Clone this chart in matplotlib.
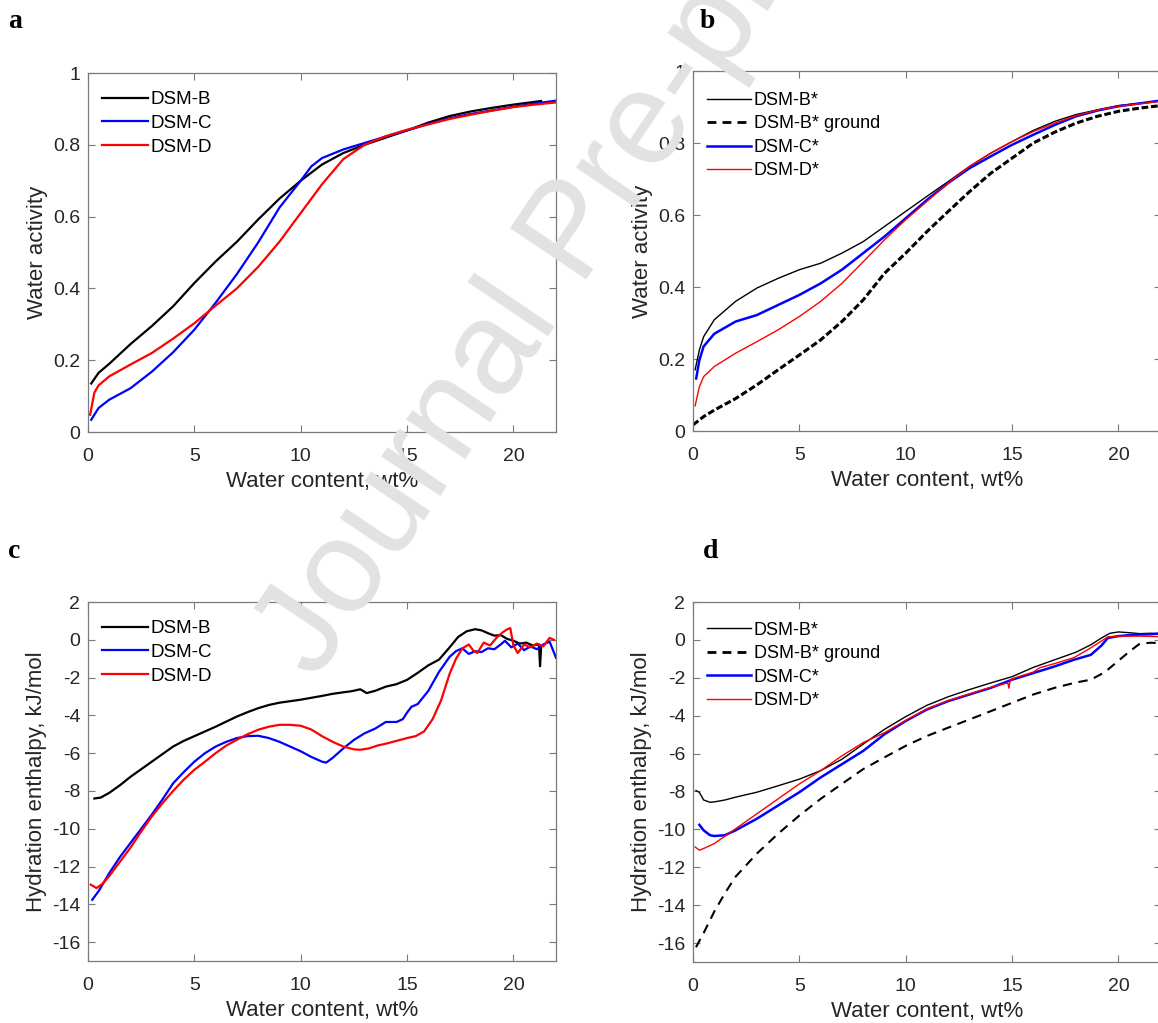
import matplotlib
matplotlib.use("Agg")
import matplotlib.pyplot as plt
from matplotlib.lines import Line2D

plt.rcParams['font.family'] = ['Liberation Sans', 'DejaVu Sans']
plt.rcParams['axes.unicode_minus'] = False

# ---- panel a: water activity, untreated samples ----
a_x_b = [0.15, 0.5, 1, 2, 3, 4, 5, 6, 7, 8, 9, 10, 11, 12, 13, 14, 15, 16, 17, 18, 19, 20, 21.3]
a_y_b = [0.135, 0.165, 0.19, 0.245, 0.295, 0.35, 0.415, 0.475, 0.53, 0.592, 0.65, 0.70, 0.745, 0.777, 0.80, 0.82, 0.84, 0.862, 0.88, 0.893, 0.903, 0.912, 0.922]
a_x_c = [0.15, 0.5, 1, 2, 3, 4, 5, 6, 7, 8, 9, 10, 10.5, 11, 12, 13, 14, 15, 16, 17, 18, 19, 20, 21, 22]
a_y_c = [0.034, 0.067, 0.09, 0.122, 0.168, 0.222, 0.285, 0.36, 0.44, 0.528, 0.625, 0.70, 0.74, 0.763, 0.787, 0.805, 0.823, 0.84, 0.858, 0.874, 0.886, 0.896, 0.906, 0.915, 0.923]
a_x_d = [0.1, 0.3, 0.5, 1, 2, 3, 4, 5, 6, 7, 8, 9, 10, 11, 12, 13, 14, 15, 16, 17, 18, 19, 20, 21, 22]
a_y_d = [0.048, 0.11, 0.13, 0.155, 0.188, 0.22, 0.26, 0.303, 0.352, 0.40, 0.46, 0.53, 0.61, 0.69, 0.76, 0.80, 0.824, 0.842, 0.857, 0.872, 0.884, 0.895, 0.905, 0.912, 0.918]

# ---- panel b: water activity, starred samples ----
b_x_b = [0.1, 0.3, 0.5, 1, 2, 3, 4, 5, 6, 7, 8, 9, 10, 11, 12, 13, 14, 15, 16, 17, 18, 19, 20, 21, 22, 22.5]
b_y_b = [0.17, 0.225, 0.262, 0.309, 0.36, 0.397, 0.424, 0.448, 0.466, 0.494, 0.526, 0.568, 0.61, 0.652, 0.693, 0.735, 0.772, 0.804, 0.835, 0.86, 0.879, 0.892, 0.904, 0.91, 0.917, 0.92]
b_x_g = [0.0, 0.5, 1, 2, 3, 4, 5, 6, 7, 8, 9, 10, 11, 12, 13, 14, 15, 16, 17, 18, 19, 20, 21, 22, 22.5]
b_y_g = [0.017, 0.04, 0.058, 0.09, 0.128, 0.17, 0.211, 0.253, 0.304, 0.364, 0.438, 0.494, 0.554, 0.61, 0.665, 0.716, 0.758, 0.80, 0.83, 0.855, 0.874, 0.888, 0.897, 0.904, 0.907]
b_x_c = [0.15, 0.3, 0.5, 1, 2, 3, 4, 5, 6, 7, 8, 9, 10, 11, 12, 13, 14, 15, 16, 17, 18, 19, 20, 22, 22.5]
b_y_c = [0.146, 0.197, 0.235, 0.27, 0.304, 0.322, 0.35, 0.378, 0.41, 0.448, 0.494, 0.54, 0.591, 0.642, 0.689, 0.73, 0.763, 0.795, 0.823, 0.85, 0.874, 0.89, 0.902, 0.918, 0.92]
b_x_d = [0.1, 0.3, 0.5, 1, 2, 3, 4, 5, 6, 7, 8, 9, 10, 11, 12, 13, 14, 15, 16, 17, 18, 19, 20, 22, 22.5]
b_y_d = [0.07, 0.123, 0.151, 0.179, 0.216, 0.248, 0.281, 0.318, 0.36, 0.41, 0.47, 0.531, 0.587, 0.638, 0.689, 0.735, 0.772, 0.804, 0.832, 0.855, 0.876, 0.891, 0.902, 0.916, 0.918]

# ---- panel c: hydration enthalpy, untreated samples ----
c_x_b = [0.3, 0.6, 1, 1.5, 2, 2.5, 3, 3.5, 4, 4.5, 5, 5.5, 6, 6.5, 7, 7.5, 8, 8.5, 9, 9.5, 10, 10.5, 11, 11.5, 12,
         12.4, 12.8, 13.1, 13.5, 14, 14.5, 15, 15.5, 16, 16.5, 17, 17.4, 17.8, 18.2, 18.5, 18.8, 19.1, 19.4, 19.7,
         20, 20.3, 20.6, 20.9, 21.2, 21.25, 21.3]
c_y_b = [-8.4, -8.35, -8.1, -7.7, -7.25, -6.85, -6.45, -6.05, -5.65, -5.35, -5.1, -4.85, -4.6, -4.33, -4.06, -3.83,
         -3.62, -3.45, -3.33, -3.25, -3.17, -3.07, -2.97, -2.86, -2.78, -2.72, -2.62, -2.82, -2.7, -2.48, -2.35,
         -2.12, -1.75, -1.35, -1.05, -0.4, 0.15, 0.45, 0.56, 0.5, 0.35, 0.22, 0.25, 0.05, -0.05, -0.2, -0.15,
         -0.3, -0.25, -1.4, -0.4]
c_x_c = [0.2, 0.5, 1, 1.5, 2, 2.5, 3, 3.5, 4, 4.5, 5, 5.5, 6, 6.5, 7, 7.5, 8, 8.5, 9, 9.5, 10, 10.5, 11, 11.2,
         11.5, 12, 12.5, 13, 13.5, 14, 14.5, 14.8, 15, 15.2, 15.5, 16, 16.5, 17, 17.3, 17.6, 17.9, 18.2, 18.5,
         18.8, 19.1, 19.4, 19.6, 19.9, 20.2, 20.5, 20.8, 21.1, 21.4, 21.7, 22]
c_y_c = [-13.76, -13.3, -12.35, -11.5, -10.75, -10.0, -9.25, -8.45, -7.6, -7.0, -6.45, -6.0, -5.65, -5.4, -5.2,
         -5.1, -5.08, -5.2, -5.4, -5.65, -5.9, -6.2, -6.45, -6.5, -6.25, -5.75, -5.3, -4.95, -4.7, -4.35, -4.35,
         -4.2, -3.85, -3.55, -3.4, -2.7, -1.7, -0.9, -0.6, -0.45, -0.75, -0.6, -0.65, -0.45, -0.5, -0.25, -0.05,
         -0.4, -0.2, -0.55, -0.35, -0.5, -0.25, -0.1, -0.95]
c_x_d = [0.13, 0.4, 0.7, 1, 1.5, 2, 2.5, 3, 3.5, 4, 4.5, 5, 5.5, 6, 6.5, 7, 7.5, 8, 8.5, 9, 9.5, 10, 10.5, 11,
         11.5, 12, 12.5, 12.8, 13.2, 13.6, 14, 14.5, 15, 15.4, 15.8, 16.2, 16.6, 17, 17.3, 17.6, 17.9, 18.1,
         18.3, 18.6, 18.9, 19.2, 19.5, 19.7, 19.85, 20.0, 20.2, 20.5, 20.8, 21.1, 21.4, 21.7, 21.9]
c_y_d = [-12.96, -13.14, -12.9, -12.5, -11.75, -11.0, -10.15, -9.35, -8.65, -8.0, -7.4, -6.88, -6.45, -6.0,
         -5.6, -5.29, -5.0, -4.76, -4.6, -4.5, -4.5, -4.55, -4.75, -5.1, -5.4, -5.65, -5.8, -5.82, -5.75, -5.6,
         -5.5, -5.35, -5.2, -5.1, -4.85, -4.2, -3.2, -1.8, -1.0, -0.45, -0.25, -0.55, -0.7, -0.15, -0.3, 0.1,
         0.4, 0.55, 0.62, -0.3, -0.7, -0.25, -0.4, -0.2, -0.35, 0.1, 0.0]

# ---- panel d: hydration enthalpy, starred samples ----
d_x_b = [0.14, 0.3, 0.5, 0.8, 1, 1.5, 2, 3, 4, 5, 6, 7, 8, 9, 10, 11, 12, 13, 14, 15, 16, 17, 18, 18.7,
         19.2, 19.6, 20, 20.5, 21, 21.5, 22, 22.5]
d_y_b = [-7.95, -8.05, -8.45, -8.57, -8.55, -8.45, -8.3, -8.04, -7.7, -7.35, -6.9, -6.3, -5.5, -4.72, -4.05,
         -3.45, -3.0, -2.62, -2.27, -1.94, -1.45, -1.05, -0.65, -0.26, 0.1, 0.35, 0.42, 0.38, 0.33, 0.35, 0.3, 0.3]
d_x_g = [0.14, 0.5, 1, 1.5, 2, 3, 4, 5, 6, 7, 8, 9, 10, 11, 12, 13, 14, 15, 16, 17, 18, 18.7, 19.2, 19.5,
         20, 20.5, 21, 21.5, 22, 22.5]
d_y_g = [-16.22, -15.47, -14.34, -13.37, -12.5, -11.28, -10.23, -9.27, -8.39, -7.6, -6.82, -6.2, -5.59,
         -5.07, -4.63, -4.2, -3.76, -3.32, -2.88, -2.53, -2.25, -2.1, -1.8, -1.57, -1.1, -0.63, -0.2, -0.15,
         -0.17, -0.15]
d_x_c = [0.3, 0.5, 0.8, 1, 1.5, 2, 3, 4, 5, 6, 7, 8, 9, 10, 11, 12, 13, 14, 15, 16, 17, 17.9, 18.7, 19.2,
         19.5, 20, 20.5, 21, 21.5, 22, 22.5]
d_y_c = [-9.76, -10.05, -10.31, -10.35, -10.31, -10.05, -9.44, -8.74, -8.04, -7.26, -6.56, -5.86, -4.98,
         -4.28, -3.67, -3.23, -2.88, -2.53, -2.1, -1.75, -1.4, -1.05, -0.79, -0.3, 0.1, 0.2, 0.25, 0.28, 0.3,
         0.35, 0.38]
d_x_d = [0.1, 0.3, 0.5, 1, 2, 3, 4, 5, 6, 7, 8, 9, 10, 11, 12, 13, 14, 14.8, 14.85, 14.9, 15, 16, 16.3,
         17, 17.9, 18.7, 19.5, 20, 21, 22, 22.5]
d_y_d = [-10.93, -11.1, -11.01, -10.75, -9.97, -9.18, -8.39, -7.6, -6.9, -6.12, -5.42, -4.9, -4.25, -3.64,
         -3.2, -2.85, -2.5, -2.27, -2.55, -2.2, -2.05, -1.7, -1.47, -1.25, -0.94, -0.42, 0.16, 0.2, 0.2, 0.17, 0.2]

labels_plain = ['DSM-B', 'DSM-C', 'DSM-D']
labels_star = ['DSM-B*', 'DSM-B* ground', 'DSM-C*', 'DSM-D*']
x_ticks = [0, 5, 10, 15, 20]
aw_ticks = [0, 0.2, 0.4, 0.6, 0.8, 1]
aw_ticklabels = ['0', '0.2', '0.4', '0.6', '0.8', '1']
dh_ticks = [2, 0, -2, -4, -6, -8, -10, -12, -14, -16]

W, H = 1158, 1023
fig = plt.figure(figsize=(W / 100, H / 100), dpi=100)

def box(l, t, r, b):
    return [l / W, 1 - b / H, (r - l) / W, (b - t) / H]

TXT = '#262626'
SPN = '#7a7a7a'

def style(ax, ylim, yticks, yticklabels, ylabel):
    ax.set_xlim(0, 22)
    ax.set_ylim(*ylim)
    ax.set_xticks(x_ticks)
    ax.set_yticks(yticks)
    ax.set_yticklabels(yticklabels)
    ax.tick_params(direction='in', top=True, right=True, length=5, width=0.8,
                   color=SPN, labelcolor=TXT, labelsize=14)
    ax.tick_params(axis='x', pad=11.5)
    ax.tick_params(axis='y', pad=5.5)
    for s in ax.spines.values():
        s.set_color(SPN)
        s.set_linewidth(0.9)
    ax.set_xlabel('Water content, wt%', fontsize=16, color=TXT, labelpad=4)
    ax.set_ylabel(ylabel, fontsize=16, color=TXT, labelpad=3.5)

def legend(ax, size, top, handles=None):
    kw = dict(loc='upper left', bbox_to_anchor=(0.03, top), frameon=False, fontsize=size,
              handlelength=2.45, handletextpad=0.15, labelspacing=0.36, borderpad=0, borderaxespad=0)
    if handles is None:
        ax.legend(**kw)
    else:
        ax.legend(handles=handles, **kw)

def star_handles(dash_lw):
    return [Line2D([], [], color='black', lw=1.0, label=labels_star[0]),
            Line2D([], [], color='black', lw=dash_lw, dashes=(3.2, 2.2), label=labels_star[1]),
            Line2D([], [], color='blue', lw=1.8, label=labels_star[2]),
            Line2D([], [], color='red', lw=1.0, label=labels_star[3])]

# panel a
ax = fig.add_axes(box(88, 73, 556, 432))
ax.plot(a_x_b, a_y_b, color='black', lw=1.6, label=labels_plain[0])
ax.plot(a_x_c, a_y_c, color='blue', lw=1.6, label=labels_plain[1])
ax.plot(a_x_d, a_y_d, color='red', lw=1.6, label=labels_plain[2])
style(ax, (0, 1), aw_ticks, aw_ticklabels, 'Water activity')
legend(ax, 13.5, 0.95)

# panel b (right edge runs just past the image)
ax = fig.add_axes(box(693, 71, 1161, 431))
ax.plot(b_x_b, b_y_b, color='black', lw=1.0)
ax.plot(b_x_g, b_y_g, color='black', lw=2.2, dashes=(2.2, 0.9))
ax.plot(b_x_c, b_y_c, color='blue', lw=1.8)
ax.plot(b_x_d, b_y_d, color='red', lw=1.0)
style(ax, (0, 1), aw_ticks, aw_ticklabels, 'Water activity')
legend(ax, 13, 0.942, star_handles(2.0))

# panel c
ax = fig.add_axes(box(88, 602, 556, 961))
ax.plot(c_x_b, c_y_b, color='black', lw=1.6, label=labels_plain[0])
ax.plot(c_x_c, c_y_c, color='blue', lw=1.6, label=labels_plain[1])
ax.plot(c_x_d, c_y_d, color='red', lw=1.6, label=labels_plain[2])
style(ax, (-17, 2), dh_ticks, [str(v) for v in dh_ticks], 'Hydration enthalpy, kJ/mol')
legend(ax, 13.5, 0.95)

# panel d
ax = fig.add_axes(box(693, 602, 1161, 962))
ax.plot(d_x_b, d_y_b, color='black', lw=1.0)
ax.plot(d_x_g, d_y_g, color='black', lw=1.5, dashes=(4.5, 3.2))
ax.plot(d_x_c, d_y_c, color='blue', lw=1.8)
ax.plot(d_x_d, d_y_d, color='red', lw=1.0)
style(ax, (-17, 2), dh_ticks, [str(v) for v in dh_ticks], 'Hydration enthalpy, kJ/mol')
legend(ax, 13, 0.945, star_handles(2.0))

# panel letters
for letter, px, py in [('a', 8, 28), ('b', 700, 28), ('c', 8, 558), ('d', 703, 558)]:
    fig.text(px / W, 1 - py / H, letter, fontsize=20, fontweight='bold',
             family='Liberation Serif', color='black', va='baseline', ha='left')

# watermark
fig.text(575 / W, 1 - 235 / H, 'Journal Pre-proof', rotation=56, rotation_mode='anchor',
         ha='center', va='center', fontsize=96, color='#e2e2e2', zorder=10)

fig.savefig('out.png', dpi=100)
